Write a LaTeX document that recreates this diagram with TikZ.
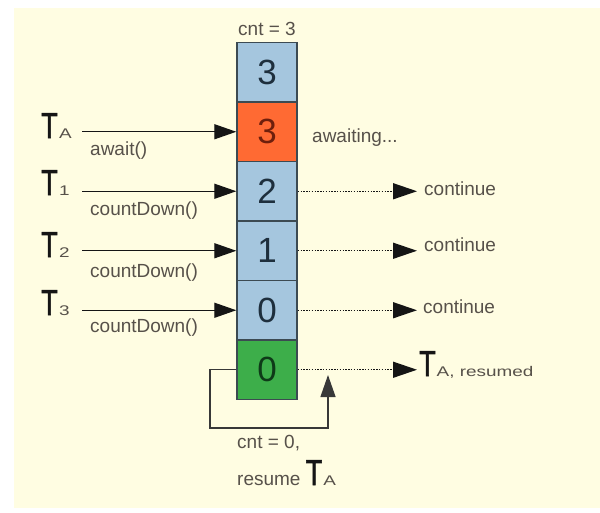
\documentclass[tikz,border=0pt]{standalone}
\usepackage{fontspec}
\setmainfont{Liberation Sans}
\newfontfamily\tfont[FakeBold=1.6]{Liberation Sans}
\usetikzlibrary{arrows.meta}
\definecolor{cream}{HTML}{FFFDE2}
\definecolor{cellblue}{HTML}{A5C6DE}
\definecolor{cellorange}{HTML}{FF6A33}
\definecolor{cellgreen}{HTML}{3DAE4A}
\definecolor{cellborder}{HTML}{3C4A52}
\definecolor{labelgrey}{HTML}{57514A}
\definecolor{inkdark}{HTML}{151515}
\definecolor{numblue}{HTML}{1E2F3D}
\definecolor{numorange}{HTML}{6E1F0C}
\definecolor{numgreen}{HTML}{0E3A18}
\newcommand\bigT{\scalebox{0.75}[1]{\tfont\fontsize{36}{36}\selectfont T}}
\newcommand\smallsub[1]{{\color{labelgrey}\scalebox{1.35}[1]{\fontsize{14}{14}\selectfont #1}}}
\begin{document}
\begin{tikzpicture}[x=1pt,y=-1pt,
  cell/.style={draw=cellborder, line width=1.4pt, minimum width=60pt, minimum height=59.5pt, inner sep=0pt, font=\fontsize{35}{35}\selectfont},
  lbl/.style={inner sep=0pt, text=labelgrey, font=\fontsize{19}{19}\selectfont, anchor=base west},
  tlbl/.style={inner sep=0pt, text=inkdark, anchor=base west},
  arr/.style={draw=inkdark, line width=1.3pt, -{Triangle[length=22pt,width=15pt]}},
  dotarr/.style={draw=inkdark, line width=1.4pt, dash pattern=on 1.4pt off 1.4pt, -{Triangle[length=24pt,width=16pt]}},
  looparr/.style={draw=inkdark!85, line width=1.3pt, -{Triangle[length=22pt,width=15pt]}}]
\useasboundingbox (0,0) rectangle (600,512);
\fill[white] (0,0) rectangle (600,512);
\fill[cream] (14,8) rectangle (600,508);
% cells
\node[cell, fill=cellblue, text=numblue] (c1) at (267,72) {3};
\node[cell, fill=cellorange, text=numorange] (c2) at (267,131.75) {3};
\node[cell, fill=cellblue, text=numblue] (c3) at (267,191.25) {2};
\node[cell, fill=cellblue, text=numblue] (c4) at (267,250.75) {1};
\node[cell, fill=cellblue, text=numblue] (c5) at (267,310.25) {0};
\node[cell, fill=cellgreen, text=numgreen] (c6) at (267,369.75) {0};
% top label
\node[lbl, anchor=base] (cnt3) at (267,35) {cnt = 3};
% thread labels
\node[tlbl] (tA) at (41,138) {\bigT\hspace{1.5pt}\smallsub{A}};
\node[tlbl] (t1) at (41,195) {\bigT\hspace{1.5pt}\smallsub{1}};
\node[tlbl] (t2) at (41,257) {\bigT\hspace{1.5pt}\smallsub{2}};
\node[tlbl] (t3) at (41,315) {\bigT\hspace{1.5pt}\smallsub{3}};
% method labels
\node[lbl] (mA) at (90,155) {await()};
\node[lbl] (m1) at (90,215) {countDown()};
\node[lbl] (m2) at (90,277) {countDown()};
\node[lbl] (m3) at (90,332) {countDown()};
% incoming arrows
\coordinate (lx) at (82,0);
\draw[arr] (lx |- c2.west) -- (c2.west);
\draw[arr] (lx |- c3.west) -- (c3.west);
\draw[arr] (lx |- c4.west) -- (c4.west);
\draw[arr] (lx |- c5.west) -- (c5.west);
% right side
\node[lbl] (aw) at (312,142) {awaiting...};
\coordinate (rx) at (417,0);
\draw[dotarr] (c3.east) -- (rx |- c3.east);
\draw[dotarr] (c4.east) -- (rx |- c4.east);
\draw[dotarr] (c5.east) -- (rx |- c5.east);
\draw[dotarr] (c6.east) -- (rx |- c6.east);
\node[lbl] (k1) at (424,195) {continue};
\node[lbl] (k2) at (424,251) {continue};
\node[lbl] (k3) at (423,313) {continue};
\node[tlbl] (res) at (419,376) {\bigT\hspace{1pt}\smallsub{A, resumed}};
% loop
\coordinate (la) at (210,428);
\coordinate (ltip) at (328,375);
\draw[looparr] (c6.west) -| (la) -| (ltip);
\node[lbl] (cnt0) at (237,448) {cnt = 0,};
\node[lbl] (rsm) at (237,485) {resume {\color{inkdark}\bigT}\hspace{1pt}\smallsub{A}};
\end{tikzpicture}
\end{document}
